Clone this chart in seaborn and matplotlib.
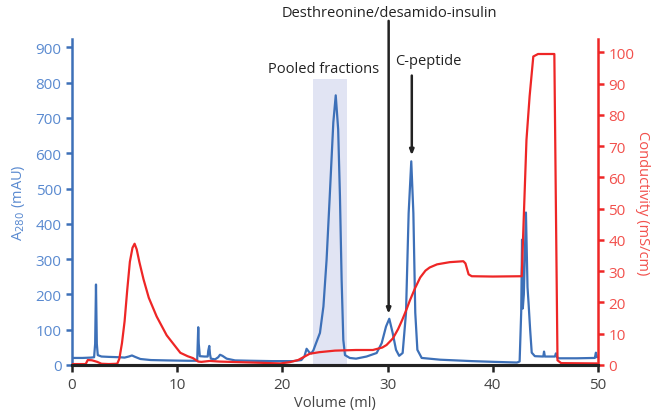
import numpy as np
import matplotlib
matplotlib.use("Agg")
from matplotlib import pyplot as plt
import seaborn as sns

# A280 trace (mAU)
vol_uv = [0.0, 1.0, 1.8, 2.1, 2.2, 2.28, 2.36, 2.45, 2.8, 3.5, 4.5, 5.0, 5.4, 5.7, 6.0, 6.5,
          7.5, 9.0, 11.0, 11.9, 11.95, 12.0, 12.05, 12.15, 12.6, 12.9, 12.95, 13.05, 13.12, 13.2,
          13.6, 13.9, 14.07, 14.3, 14.7, 15.5, 17.0, 19.0, 21.0, 21.8, 22.1, 22.3, 22.55, 22.75,
          22.95, 23.2, 23.57, 23.9, 24.2, 24.5, 24.84, 25.07, 25.3, 25.47, 25.63, 25.79, 25.95,
          26.4, 27.0, 28.0, 28.96, 29.44, 29.85, 30.16, 30.48, 30.8, 31.1, 31.43, 31.75, 32.0,
          32.25, 32.45, 32.63, 32.83, 33.24, 35.0, 38.0, 40.0, 42.3, 42.55, 42.7, 42.78, 42.85,
          42.95, 43.15, 43.3, 43.4, 43.55, 43.7, 44.0, 44.8, 44.87, 44.95, 45.9, 46.0, 46.1,
          46.3, 48.0, 49.7, 49.8, 49.9]
a280 = [20, 20, 21, 22, 60, 228, 60, 28, 24, 23, 22, 21, 24, 27, 23, 17,
        14, 13, 12, 12, 60, 107, 60, 25, 24, 24, 40, 54, 30, 18,
        16, 22, 29, 26, 18, 13, 12, 11, 11, 14, 25, 46, 36, 33,
        42, 62, 91, 166, 298, 478, 687, 764, 668, 478, 241, 71, 28,
        20, 18, 24, 34, 62, 109, 131, 91, 43, 26, 34, 148, 430,
        577, 430, 148, 43, 20, 15, 11, 9, 7, 10, 150, 355, 160,
        200, 432, 220, 175, 100, 35, 25, 24, 38, 24, 24, 33, 22,
        19, 19, 20, 35, 22]

# conductivity trace (mS/cm)
vol_cond = [0.0, 1.3, 1.5, 1.9, 2.4, 2.8, 3.5, 4.3, 4.5, 4.75, 5.0, 5.25, 5.5, 5.75, 5.95,
            6.15, 6.4, 6.8, 7.3, 8.05, 9.0, 9.95, 10.3, 11.0, 11.5, 12.0, 12.3, 13.1, 14.0,
            16.0, 18.0, 19.8, 20.7, 21.5, 22.0, 22.6, 23.5, 25.0, 26.0, 27.0, 28.6, 29.5,
            29.9, 30.5, 31.0, 31.4, 31.8, 32.1, 32.6, 33.1, 33.6, 34.0, 34.7, 35.9,
            37.2, 37.4, 37.7, 38.0, 40.0, 42.75, 43.2, 43.5, 43.85, 44.3, 45.85,
            46.0, 46.15, 46.5, 49.9]
cond = [0.3, 0.3, 1.6, 1.5, 1.0, 0.4, 0.3, 0.4, 2, 7, 14, 24, 33, 37.5, 38.8,
        37.0, 33, 27.4, 21.5, 15.5, 9.5, 5.4, 3.9, 2.8, 2.2, 1.1, 1.0, 1.3, 1.1,
        0.9, 0.7, 0.5, 0.9, 1.6, 2.5, 3.6, 4.1, 4.6, 4.7, 4.8, 4.8, 5.6,
        6.4, 8.5, 11.5, 14.5, 17.8, 20.5, 24.5, 28, 30.2, 31.2, 32.2, 32.9,
        33.2, 32.5, 29, 28.4, 28.3, 28.4, 72, 86, 98.7, 99.5, 99.5,
        50, 1.5, 0.6, 0.5]

pooled = (22.9, 26.1)
pooled_top = 810
labels = ["Desthreonine/desamido-insulin", "C-peptide"]
label_tips = [(30.1, 145), (32.3, 594)]
label_pos = [(30.2, 1000), (33.9, 862)]
arrow_from = [(30.1, 975), (32.3, 820)]

sns.set_theme(style="ticks")
plt.rcParams['font.family'] = ['Open Sans', 'DejaVu Sans']

blue = "#3d70b8"
blue_txt = "#5a8ad0"
red = "#ee2626"
red_txt = "#f2504c"
dark = "#222222"

fig = plt.figure(figsize=(6.52, 4.14), dpi=100)
ax = fig.add_axes([72/652, 1-366/414, 526/652, 326/414])
ax2 = ax.twinx()

ax.axvspan(pooled[0], pooled[1], ymin=0, ymax=pooled_top/923.6, color="#e1e4f3", lw=0, zorder=0)
sns.lineplot(x=vol_uv, y=a280, ax=ax, color=blue, lw=1.6, sort=False, estimator=None)
sns.lineplot(x=vol_cond, y=cond, ax=ax2, color=red, lw=1.6, sort=False, estimator=None)

ax.set_xlim(0, 50)
ax.set_ylim(0, 923.6)
ax2.set_ylim(0, 104.3)
ax.set_xticks(np.arange(0, 51, 10))
ax.set_yticks(np.arange(0, 901, 100))
ax2.set_yticks(np.arange(0, 101, 10))

for a in (ax, ax2):
    a.spines["top"].set_visible(False)
    a.spines["bottom"].set_color(dark)
    a.spines["bottom"].set_linewidth(2.2)
ax.spines["right"].set_visible(False)
ax2.spines["left"].set_visible(False)
ax.spines["left"].set_color(blue)
ax.spines["left"].set_linewidth(1.8)
ax2.spines["right"].set_color(red)
ax2.spines["right"].set_linewidth(1.8)

ax.tick_params(axis="y", colors=blue, labelcolor=blue_txt, labelsize=11, length=4, width=1.8)
ax2.tick_params(axis="y", colors=red, labelcolor=red_txt, labelsize=11, length=4, width=1.8)
ax.tick_params(axis="x", colors=dark, labelcolor="#444444", labelsize=11, length=5, width=1.8)

ax.set_xlabel("Volume (ml)", color="#444444", fontsize=10.5, labelpad=2)
ax.set_ylabel(r"A$_{280}$ (mAU)", color=blue_txt, fontsize=10.5, labelpad=6)
ax2.set_ylabel("Conductivity (mS/cm)", color=red_txt, fontsize=10.5, rotation=270, labelpad=11)

ax.text(23.9, 841, "Pooled fractions", ha="center", va="center", fontsize=10.5, color=dark)
for lab, tip, pos, start in zip(labels, label_tips, label_pos, arrow_from):
    ax.text(pos[0], pos[1], lab, ha="center", va="center", fontsize=10.5, color=dark, clip_on=False)
    ax.annotate("", xy=tip, xytext=start, annotation_clip=False,
                arrowprops=dict(arrowstyle="-|>,head_length=0.25,head_width=0.1", color=dark,
                                lw=1.8, shrinkA=0, shrinkB=0))

fig.savefig("out.png", dpi=100)
